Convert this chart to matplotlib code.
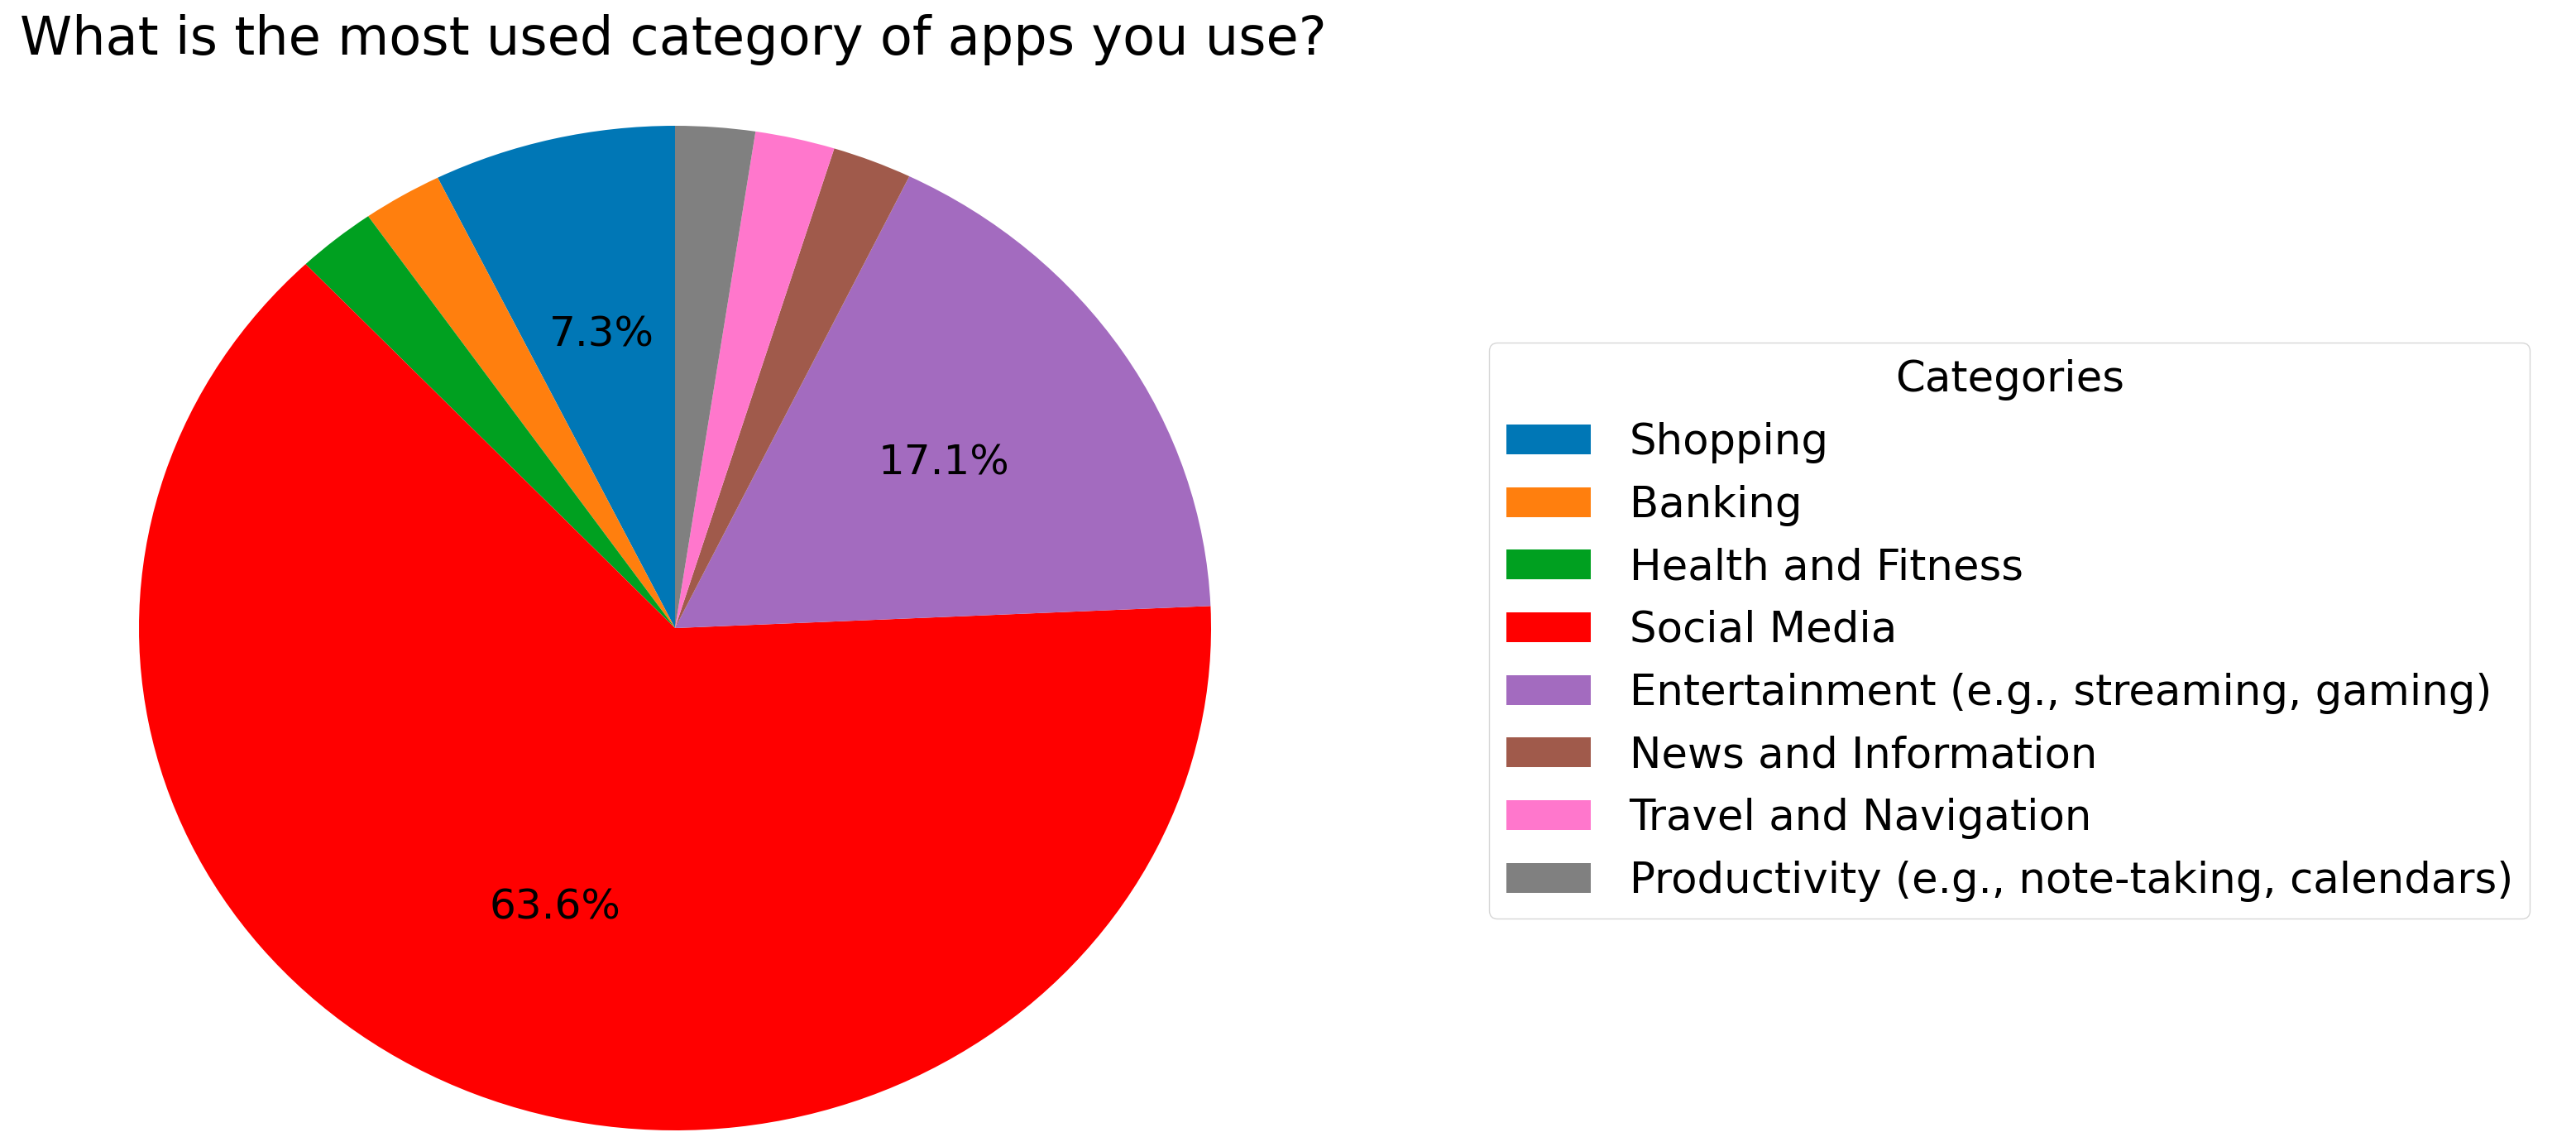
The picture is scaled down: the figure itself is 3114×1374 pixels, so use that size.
import matplotlib
matplotlib.use("Agg")
from matplotlib import pyplot as plt

# survey answers
categories = ["Shopping", "Banking", "Health and Fitness", "Social Media",
              "Entertainment (e.g., streaming, gaming)", "News and Information",
              "Travel and Navigation", "Productivity (e.g., note-taking, calendars)"]
shares = [7.3, 2.4, 2.4, 63.6, 17.1, 2.4, 2.4, 2.4]
colors = ["#0077b6", "#ff7f0e", "#00a020", "#ff0000",
          "#a36bbf", "#a05a4b", "#ff77cc", "#808080"]

fig = plt.figure(figsize=(31.14, 13.74), dpi=100)
ax = fig.add_axes([168 / 3114, 8 / 1374, 1296 / 3114, 1214 / 1374])

wedges, texts, autotexts = ax.pie(
    shares, colors=colors, startangle=90,
    autopct=lambda p: f"{p:.1f}%" if p > 5 else "",
    pctdistance=0.6, textprops={"fontsize": 36})

# the reference is slightly stretched sideways
ax.set_aspect("auto")
ax.set_xlim(-1, 1)
ax.set_ylim(-1, 1)

fig.text(24 / 3114, 1 - 48 / 1374, "What is the most used category of apps you use?",
         ha="left", va="center", fontsize=46)

ax.legend(wedges, categories, title="Categories", loc="center left",
          bbox_to_anchor=(1800 / 3114, 1 - 762 / 1374),
          bbox_transform=fig.transFigure, borderaxespad=0,
          fontsize=37, title_fontsize=37,
          handlelength=2.0, handleheight=0.7, handletextpad=0.9)

fig.savefig("out.png", dpi=100)
